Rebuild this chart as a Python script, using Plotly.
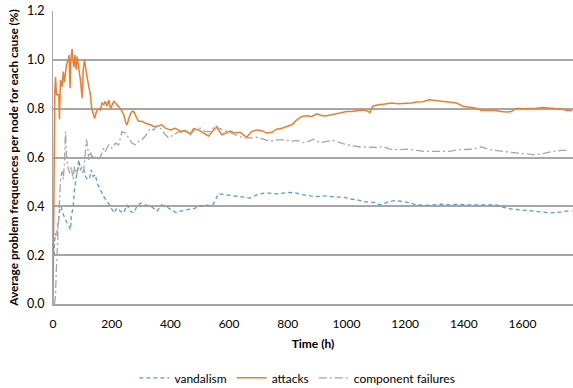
import plotly.graph_objects as go

# ---- data ----
attacks_t = [0, 3, 6, 8.5, 12, 20, 22, 25.5, 31, 35, 39, 46, 52, 55, 58, 61, 65, 68, 71, 75, 79, 82, 88,
             93.5, 99, 103, 107, 111, 116, 122, 127, 132, 139, 142, 148, 156, 161, 167, 173, 178, 184, 190,
             196, 207, 218, 230, 241, 247, 252, 258, 264, 271, 277, 286, 292, 303, 315, 332, 343, 354, 371,
             383, 400, 417, 434, 451, 468, 479, 496, 513, 530, 547, 558, 575, 592, 604, 621, 638, 649, 660,
             677, 694, 712, 729, 746, 762, 780, 797, 814, 831, 848, 865, 882, 899, 916, 933, 950, 967, 984,
             1001, 1018, 1035, 1052, 1069, 1080, 1089, 1108, 1131, 1154, 1176, 1199, 1222, 1239, 1261, 1282,
             1301, 1324, 1346, 1375, 1397, 1420, 1443, 1460, 1482, 1505, 1528, 1545, 1562, 1579, 1601, 1624,
             1647, 1669, 1692, 1715, 1737, 1749, 1769]
attacks_v = [0, 0.55, 0.86, 0.93, 0.857, 0.857, 0.757, 0.918, 0.89, 0.952, 0.91, 0.98, 1.00, 1.02, 0.884,
             1.00, 1.044, 1.00, 0.97, 1.02, 0.96, 1.013, 0.97, 0.918, 0.843, 0.96, 1.0, 0.96, 0.93, 0.89,
             0.86, 0.80, 0.775, 0.76, 0.788, 0.80, 0.795, 0.823, 0.816, 0.83, 0.81, 0.836, 0.80, 0.83, 0.816,
             0.80, 0.775, 0.745, 0.734, 0.76, 0.78, 0.79, 0.785, 0.76, 0.748, 0.748, 0.74, 0.734, 0.727,
             0.727, 0.734, 0.72, 0.713, 0.72, 0.708, 0.71, 0.695, 0.718, 0.713, 0.70, 0.688, 0.712, 0.725,
             0.693, 0.703, 0.708, 0.70, 0.703, 0.693, 0.683, 0.706, 0.713, 0.71, 0.70, 0.703, 0.716, 0.72,
             0.727, 0.734, 0.754, 0.768, 0.771, 0.768, 0.779, 0.771, 0.771, 0.775, 0.779, 0.784, 0.788,
             0.788, 0.792, 0.795, 0.792, 0.784, 0.81, 0.816, 0.819, 0.823, 0.82, 0.82, 0.823, 0.827, 0.828,
             0.836, 0.833, 0.829, 0.825, 0.823, 0.81, 0.805, 0.802, 0.792, 0.792, 0.792, 0.788, 0.786, 0.788,
             0.802, 0.80, 0.80, 0.802, 0.805, 0.802, 0.802, 0.798, 0.792, 0.792]

failures_t = [5, 8.5, 11, 16, 20, 25.5, 31, 35, 39, 42.5, 46, 50, 57, 62, 69, 73, 80, 88, 99, 105, 114,
              118, 122, 128, 133, 139, 150, 162, 173, 178, 190, 201, 213, 224, 235, 247, 258, 269, 281, 292,
              303, 315, 332, 343, 354, 363, 371, 383, 394, 411, 428, 445, 456, 473, 485, 502, 519, 536, 553,
              564, 581, 598, 615, 632, 655, 677, 694, 717, 740, 762, 791, 814, 831, 853, 870, 887, 910, 933,
              955, 978, 1001, 1023, 1046, 1069, 1103, 1125, 1148, 1182, 1210, 1239, 1267, 1295, 1324, 1352,
              1380, 1409, 1431, 1460, 1482, 1505, 1533, 1556, 1584, 1613, 1641, 1664, 1681, 1703, 1732, 1760]
failures_v = [0.0, 0.03, 0.13, 0.25, 0.40, 0.51, 0.543, 0.51, 0.577, 0.706, 0.61, 0.563, 0.536, 0.563,
              0.51, 0.563, 0.53, 0.563, 0.536, 0.55, 0.673, 0.645, 0.59, 0.625, 0.598, 0.61, 0.59, 0.604,
              0.638, 0.625, 0.652, 0.638, 0.659, 0.652, 0.706, 0.70, 0.68, 0.659, 0.652, 0.666, 0.672, 0.689,
              0.72, 0.713, 0.73, 0.724, 0.713, 0.693, 0.68, 0.693, 0.706, 0.70, 0.706, 0.70, 0.716, 0.72,
              0.706, 0.706, 0.732, 0.72, 0.713, 0.706, 0.697, 0.686, 0.68, 0.68, 0.683, 0.675, 0.666, 0.672,
              0.672, 0.666, 0.67, 0.661, 0.666, 0.675, 0.661, 0.666, 0.67, 0.661, 0.652, 0.648, 0.643, 0.643,
              0.641, 0.645, 0.634, 0.632, 0.634, 0.629, 0.625, 0.625, 0.625, 0.625, 0.632, 0.634, 0.634,
              0.643, 0.634, 0.629, 0.625, 0.62, 0.618, 0.615, 0.611, 0.615, 0.62, 0.625, 0.629, 0.629]

vandal_t = [4, 5, 8.5, 12, 16, 23, 28, 31, 42.5, 54, 60, 62, 69, 73, 80, 88, 93.5, 99, 105, 110.5, 118,
            125, 130, 137, 144.5, 150, 161.6, 173, 184, 196, 207, 218, 230, 241, 252, 264, 275, 286, 298,
            315, 326, 337, 354, 371, 388, 405, 422, 434, 451, 468, 485, 502, 524, 541, 553, 564, 581, 604,
            626, 649, 672, 694, 717, 740, 762, 785, 808, 831, 853, 876, 899, 921, 944, 967, 989, 1012, 1035,
            1057, 1080, 1097, 1114, 1137, 1165, 1188, 1210, 1239, 1267, 1295, 1324, 1352, 1380, 1409, 1437,
            1460, 1488, 1511, 1533, 1562, 1590, 1618, 1647, 1669, 1698, 1720, 1749, 1769]
vandal_v = [0.20, 0.25, 0.29, 0.277, 0.318, 0.386, 0.40, 0.38, 0.345, 0.318, 0.304, 0.358, 0.40, 0.468,
            0.522, 0.59, 0.55, 0.563, 0.55, 0.522, 0.51, 0.516, 0.55, 0.522, 0.53, 0.495, 0.468, 0.44, 0.42,
            0.40, 0.373, 0.393, 0.38, 0.373, 0.406, 0.38, 0.373, 0.40, 0.413, 0.406, 0.40, 0.397, 0.38,
            0.406, 0.397, 0.386, 0.373, 0.38, 0.386, 0.389, 0.393, 0.402, 0.406, 0.40, 0.425, 0.452, 0.449,
            0.445, 0.44, 0.438, 0.434, 0.447, 0.454, 0.454, 0.451, 0.454, 0.457, 0.454, 0.447, 0.443, 0.44,
            0.443, 0.44, 0.438, 0.438, 0.43, 0.427, 0.42, 0.416, 0.416, 0.406, 0.416, 0.424, 0.42, 0.416,
            0.406, 0.404, 0.406, 0.409, 0.406, 0.409, 0.406, 0.406, 0.404, 0.404, 0.406, 0.397, 0.389,
            0.386, 0.383, 0.38, 0.375, 0.373, 0.375, 0.38, 0.38]

x_ticks = [0, 200, 400, 600, 800, 1000, 1200, 1400, 1600]
y_ticks = [0.0, 0.2, 0.4, 0.6, 0.8, 1.0, 1.2]

FONT = "Lato"
GRID = "#a6a6a6"

fig = go.Figure()
fig.add_trace(go.Scatter(x=vandal_t, y=vandal_v, mode="lines", name="vandalism",
                         line=dict(color="#5b9bd5", width=1.3, dash="4px,3px")))
fig.add_trace(go.Scatter(x=attacks_t, y=attacks_v, mode="lines", name="attacks",
                         line=dict(color="#ed7d31", width=1.5)))
fig.add_trace(go.Scatter(x=failures_t, y=failures_v, mode="lines", name="component failures",
                         line=dict(color="#a5a5a5", width=1.3, dash="8px,3px,2px,3px")))

fig.update_layout(
    width=573, height=388,
    margin=dict(l=52.5, r=0, t=11, b=84, autoexpand=False),
    paper_bgcolor="white", plot_bgcolor="white",
    font=dict(family=FONT, size=12, color="#000000"),
    showlegend=True,
    legend=dict(orientation="h", x=0.47, xanchor="center", y=-0.252, yanchor="middle",
                font=dict(family=FONT, size=12), itemwidth=30, tracegroupgap=0,
                bgcolor="rgba(0,0,0,0)"),
)
fig.update_xaxes(
    range=[0, 1772], tickvals=x_ticks, ticktext=[str(v) for v in x_ticks],
    showgrid=False, zeroline=False, showline=True, linecolor=GRID, linewidth=1.5,
    ticks="", tickfont=dict(family=FONT, size=12), ticklabelstandoff=8, automargin=False,
    title=dict(text="<b>Time (h)</b>", font=dict(family=FONT, size=12), standoff=9),
)
fig.update_yaxes(
    range=[0, 1.2], tickvals=y_ticks, ticktext=[f"{v:.1f}" for v in y_ticks],
    showgrid=True, gridcolor=GRID, gridwidth=1.5, zeroline=False,
    showline=True, linecolor=GRID, linewidth=1.2, automargin=False,
    ticks="", tickfont=dict(family=FONT, size=12.5), ticklabelstandoff=5,
    title=dict(text="<b>Average problem frequences per node for each cause (%)</b>",
               font=dict(family=FONT, size=11.8), standoff=5),
)

fig.write_html("out.html")
